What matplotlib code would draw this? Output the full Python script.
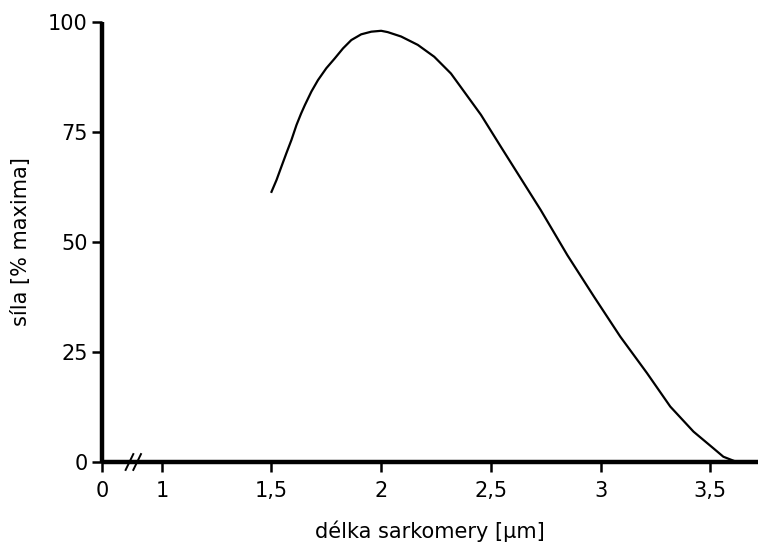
import matplotlib.pyplot as plt
from matplotlib.lines import Line2D

# delka sarkomery [um] vs sila [% maxima]
delka = [1.5, 1.523, 1.545, 1.568, 1.591, 1.614, 1.635, 1.652, 1.682, 1.712,
         1.75, 1.788, 1.826, 1.864, 1.909, 1.955, 2.0, 2.03, 2.091, 2.167,
         2.242, 2.318, 2.356, 2.455, 2.545, 2.727, 2.849, 2.97, 3.09, 3.212,
         3.318, 3.424, 3.515, 3.56, 3.606]
sila = [61.4, 64.1, 67.1, 70.2, 73.2, 76.6, 79.2, 81.1, 84.2, 86.8,
        89.5, 91.7, 94.0, 95.9, 97.2, 97.8, 98.0, 97.7, 96.7, 94.8,
        92.1, 88.3, 85.7, 78.9, 71.7, 57.3, 47.0, 37.6, 28.5, 20.2,
        12.6, 6.9, 3.1, 1.2, 0.3]

xtick_pos = [0.727, 1, 1.5, 2, 2.5, 3, 3.5]
xtick_lab = ["0", "1", "1,5", "2", "2,5", "3", "3,5"]
ytick_pos = [0, 25, 50, 75, 100]

fig = plt.figure(figsize=(7.58, 5.42), dpi=100)
ax = fig.add_axes([101.5/758, 1 - 462/542, 1 - 101.5/758, (462 - 22)/542])

ax.plot(delka, sila, color="black", lw=1.6, solid_joinstyle="round")

ax.set_xlim(0.725, 3.718)
ax.set_ylim(0, 100)

for s in ["top", "right"]:
    ax.spines[s].set_visible(False)
for s in ["left", "bottom"]:
    ax.spines[s].set_linewidth(3.2)
    ax.spines[s].set_capstyle("butt")

ax.set_xticks(xtick_pos)
ax.set_xticklabels(xtick_lab)
ax.set_yticks(ytick_pos)
ax.tick_params(axis="both", direction="out", length=7, width=1.8,
               labelsize=15, pad=3)
ax.tick_params(axis="x", pad=6.5)

ax.set_xlabel("délka sarkomery [μm]", fontsize=15, labelpad=14)
ax.set_ylabel("síla [% maxima]", fontsize=15, labelpad=12)

# znacka preruseni osy
for dx in [0.0, 0.035]:
    ln = Line2D([0.835 + dx, 0.87 + dx], [-1.8, 1.8], color="black", lw=1.4,
                transform=ax.transData, clip_on=False)
    ax.add_line(ln)

fig.savefig("out.png", dpi=100)
